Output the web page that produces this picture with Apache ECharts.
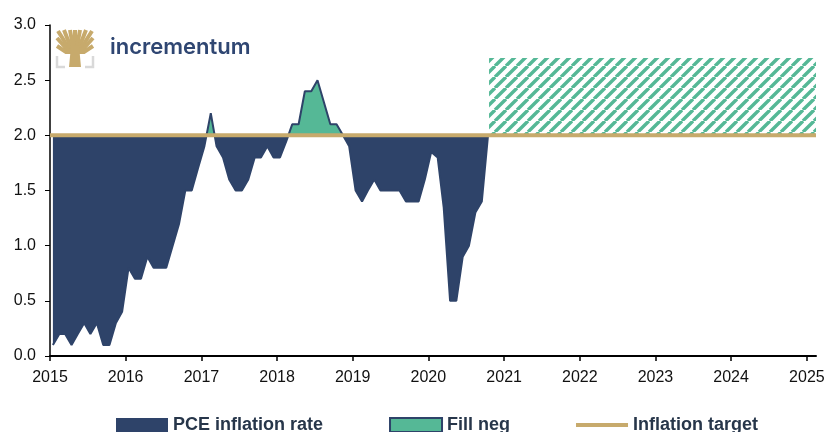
<!DOCTYPE html>
<html>
<head>
<meta charset="utf-8">
<script src="https://cdn.jsdelivr.net/npm/echarts@6/dist/echarts.min.js"></script>
<style>
  html, body { margin: 0; padding: 0; background: #fff; }
  #chart { width: 828px; height: 432px; }
</style>
</head>
<body>
<div id="chart"></div>
<script>
// monthly PCE inflation, Jan 2015 .. Oct 2020
const firstYear = 2015
const pceValues = [
  0.1, 0.2, 0.2, 0.1, 0.2, 0.3, 0.2, 0.3, 0.1, 0.1, 0.3, 0.4,
  0.8, 0.7, 0.7, 0.9, 0.8, 0.8, 0.8, 1.0, 1.2, 1.5, 1.5, 1.7,
  1.9, 2.2, 1.9, 1.8, 1.6, 1.5, 1.5, 1.6, 1.8, 1.8, 1.9, 1.8,
  1.8, 1.95, 2.1, 2.1, 2.4, 2.4, 2.5, 2.3, 2.1, 2.1, 2.0, 1.9,
  1.5, 1.4, 1.5, 1.6, 1.5, 1.5, 1.5, 1.5, 1.4, 1.4, 1.4, 1.6,
  1.85, 1.8, 1.35, 0.5, 0.5, 0.9, 1.0, 1.3, 1.4, 2.0
]
const pceMonths = pceValues.map((v, i) => {
  const y = firstYear + Math.floor(i / 12)
  const m = (i % 12) + 1
  return y + '-' + (m < 10 ? '0' + m : m) + '-15'
})

const targetDates = ['2015-01-01', '2025-02-14']
const targetValues = [2, 2]

const hatchDates = ['2020-10-20', '2025-02-14']
const hatchTop = [2.7, 2.7]

const yTicks = [0, 0.5, 1, 1.5, 2, 2.5, 3]

const navy = '#2e4369'
const teal = '#55b896'
const gold = '#c7aa6c'
const YEAR = 365 * 24 * 3600 * 1000

function stripes() {
  const s = 11
  const c = document.createElement('canvas')
  c.width = s
  c.height = s
  const g = c.getContext('2d')
  g.strokeStyle = teal
  g.lineWidth = 3.4
  g.beginPath()
  for (const o of [-s, 0, s]) {
    g.moveTo(o, s)
    g.lineTo(o + s, 0)
  }
  g.stroke()
  return c
}

// rough version of the tree logo
function treeLogo() {
  const cx = 75, by = 52
  const tips = [[57, 38], [57, 46], [58, 31], [64, 30], [70, 30], [75, 30], [80, 30], [86, 30], [92, 31], [93, 38], [93, 46]]
  const items = tips.map(t => ({
    type: 'polyline',
    shape: { points: [[cx, by], [(cx + t[0]) / 2, (by + t[1]) / 2 + 3], t] },
    style: { stroke: gold, lineWidth: 4, fill: null }
  }))
  items.push({ type: 'polygon', shape: { points: [[71, 46], [79, 46], [81, 67], [69, 67]] }, style: { fill: gold } })
  items.push({ type: 'polyline', shape: { points: [[57, 56], [57, 67], [65, 67]] }, style: { stroke: '#d9d9d9', lineWidth: 2.5, fill: null } })
  items.push({ type: 'polyline', shape: { points: [[93, 56], [93, 67], [85, 67]] }, style: { stroke: '#d9d9d9', lineWidth: 2.5, fill: null } })
  return items
}

const chart = echarts.init(document.getElementById('chart'))
chart.setOption({
  animation: false,
  grid: { left: 50, right: 12, top: 25, bottom: 76, outerBoundsMode: 'none', containLabel: false },
  legend: {
    left: 111,
    top: 411,
    itemWidth: 52,
    itemHeight: 14,
    itemGap: 66,
    textStyle: { fontFamily: 'Liberation Sans', fontWeight: 'bold', fontSize: 18, color: '#27364a' },
    data: [
      { name: 'PCE inflation rate', icon: 'rect', itemStyle: { color: navy, borderWidth: 0 } },
      { name: 'Fill neg', icon: 'rect', itemStyle: { color: teal, borderColor: navy, borderWidth: 2 } },
      { name: 'Inflation target', icon: 'path://M0,0 L52,0 L52,4 L0,4 Z', itemStyle: { color: gold, borderWidth: 0 } }
    ]
  },
  visualMap: {
    show: false,
    seriesIndex: 0,
    dimension: 1,
    pieces: [
      { min: -1, max: 2, color: navy },
      { min: 2, max: 4, color: teal }
    ]
  },
  xAxis: {
    type: 'time',
    min: targetDates[0],
    max: targetDates[1],
    minInterval: YEAR,
    maxInterval: YEAR + 24 * 3600 * 1000,
    splitLine: { show: false },
    axisLine: { lineStyle: { color: '#000', width: 2 } },
    axisTick: { show: true, length: 5, lineStyle: { color: '#000', width: 1.5 } },
    axisLabel: {
      formatter: '{yyyy}',
      color: '#111',
      fontFamily: 'Liberation Sans',
      fontSize: 16,
      margin: 14
    }
  },
  yAxis: {
    type: 'value',
    min: yTicks[0],
    max: yTicks[yTicks.length - 1],
    interval: 0.5,
    splitLine: { show: false },
    axisLine: { show: true, lineStyle: { color: '#000', width: 1.5 } },
    axisTick: { show: true, length: 5, lineStyle: { color: '#000' } },
    axisLabel: {
      formatter: v => v.toFixed(1),
      color: '#111',
      fontFamily: 'Liberation Sans',
      fontSize: 16,
      margin: 14
    }
  },
  series: [
    {
      name: 'PCE inflation rate',
      type: 'line',
      symbol: 'none',
      lineStyle: { width: 0 },
      areaStyle: { origin: 2, opacity: 1 },
      data: pceMonths.map((d, i) => [d, pceValues[i]])
    },
    {
      name: 'Fill neg',
      type: 'line',
      symbol: 'none',
      color: navy,
      lineStyle: { color: navy, width: 2 },
      data: pceMonths.map((d, i) => [d, pceValues[i]])
    },
    {
      name: 'Fill pos',
      type: 'line',
      symbol: 'none',
      lineStyle: { width: 0 },
      areaStyle: { origin: 2, opacity: 1, color: { image: stripes(), repeat: 'repeat' } },
      data: hatchDates.map((d, i) => [d, hatchTop[i]])
    },
    {
      name: 'Inflation target',
      type: 'line',
      symbol: 'none',
      color: gold,
      lineStyle: { color: gold, width: 4 },
      data: targetDates.map((d, i) => [d, targetValues[i]])
    }
  ],
  graphic: treeLogo().concat([
    {
      type: 'text',
      left: 110,
      top: 36,
      style: { text: 'incrementum', font: '600 22px Inter', fill: '#2f4672' }
    }
  ])
})
</script>
</body>
</html>
